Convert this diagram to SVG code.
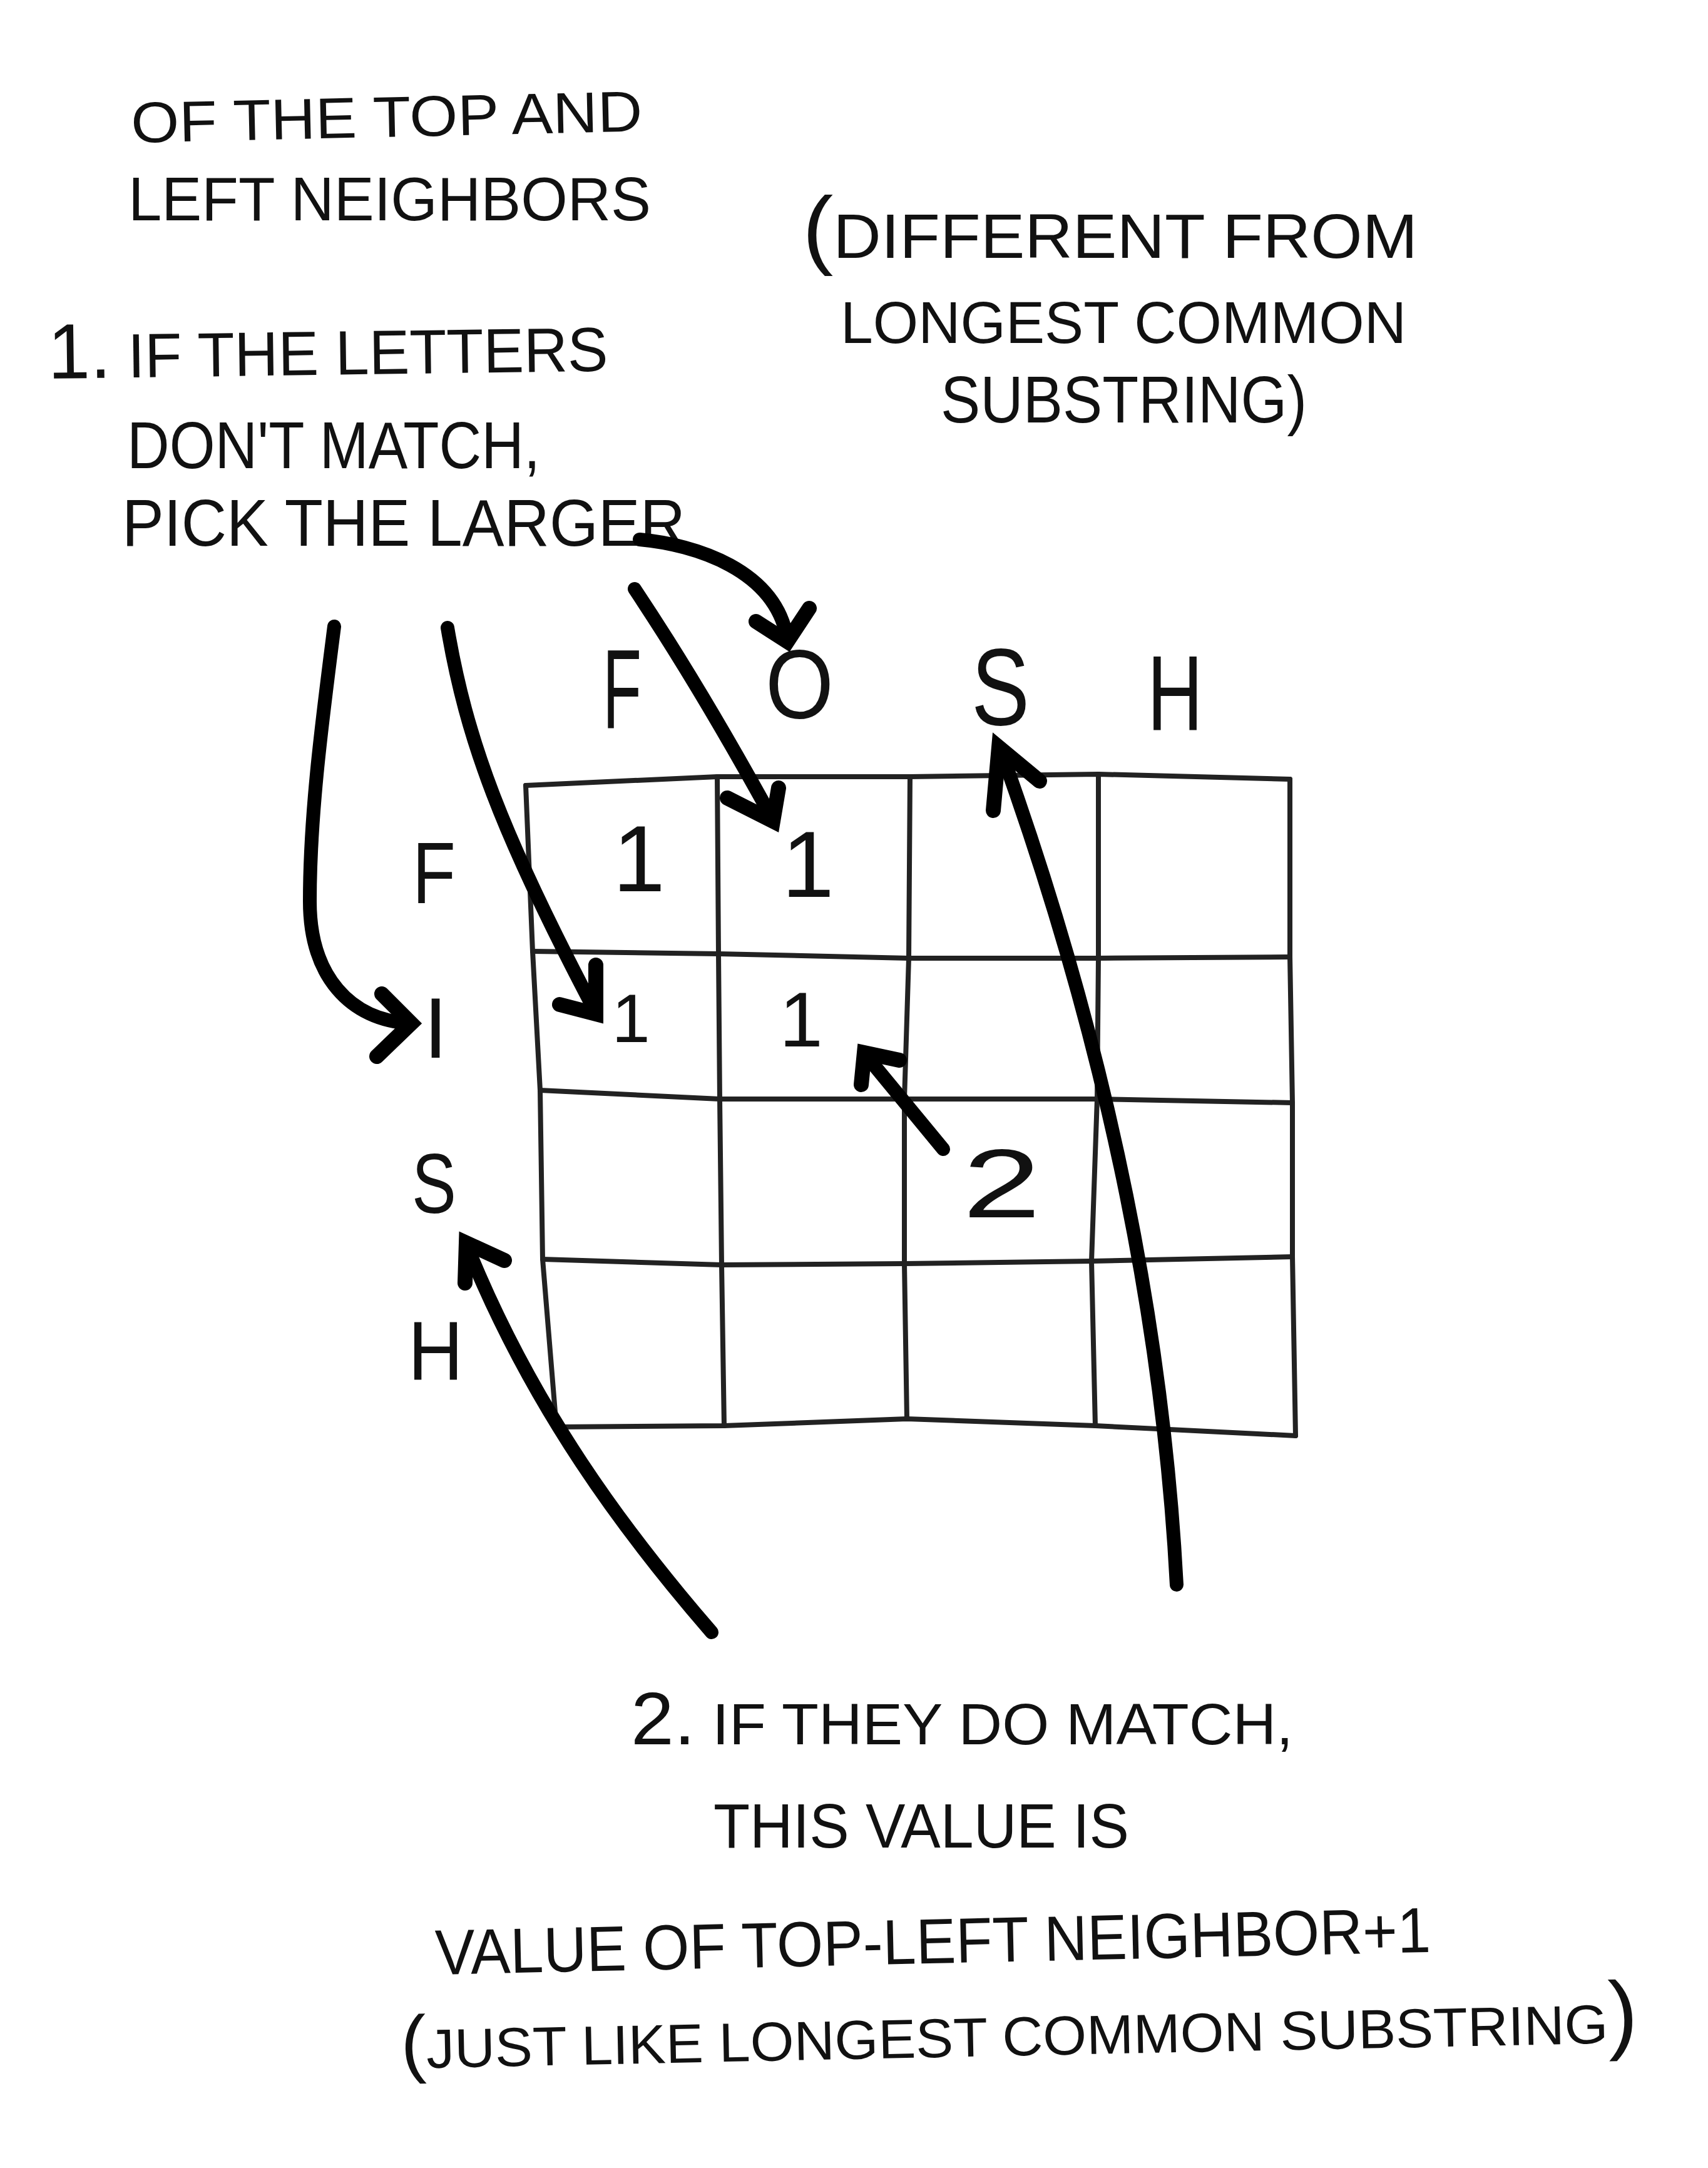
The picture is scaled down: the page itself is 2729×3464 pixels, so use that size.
<svg xmlns="http://www.w3.org/2000/svg" width="2729" height="3464" viewBox="0 0 2729 3464">
  <style>
    .t { font-family: "Liberation Sans", Arial, sans-serif; fill: #111; }
    .grid { fill: none; stroke: #222; stroke-width: 8; stroke-linecap: round; stroke-linejoin: round; }
    .arrow { fill: none; stroke: #000; stroke-width: 22; stroke-linecap: round; stroke-linejoin: round; }
    .head { fill: none; stroke: #000; stroke-width: 24; stroke-linecap: round; stroke-linejoin: miter; }
  </style>
  <rect x="0" y="0" width="2729" height="3464" fill="#ffffff"/>

  <g id="note-top-left">
    <text class="t" x="210" y="228" font-size="92" textLength="817" lengthAdjust="spacingAndGlyphs" transform="rotate(-1.3 210 228)">OF THE TOP AND</text>
    <text class="t" x="205" y="352" font-size="98" textLength="835" lengthAdjust="spacingAndGlyphs">LEFT NEIGHBORS</text>
  </g>

  <g id="note-rule-1">
    <text class="t" x="77" y="605" font-size="100" textLength="895" lengthAdjust="spacingAndGlyphs" transform="rotate(-0.8 77 605)"><tspan font-size="125">1.</tspan> IF THE LETTERS</text>
    <text class="t" x="203" y="748" font-size="105" textLength="660" lengthAdjust="spacingAndGlyphs">DON'T MATCH,</text>
    <text class="t" x="195" y="872" font-size="105" textLength="900" lengthAdjust="spacingAndGlyphs">PICK THE LARGER</text>
  </g>

  <g id="note-different">
    <text class="t" x="1282" y="412" font-size="100" textLength="983" lengthAdjust="spacingAndGlyphs"><tspan font-size="140">(</tspan>DIFFERENT FROM</text>
    <text class="t" x="1343" y="548" font-size="95" textLength="904" lengthAdjust="spacingAndGlyphs">LONGEST COMMON</text>
    <text class="t" x="1503" y="675" font-size="105" textLength="585" lengthAdjust="spacingAndGlyphs">SUBSTRING)</text>
  </g>

  <g id="column-headers">
    <text class="t" x="963" y="1163" font-size="180" textLength="62" lengthAdjust="spacingAndGlyphs">F</text>
    <text class="t" x="1223" y="1147" font-size="155" textLength="109" lengthAdjust="spacingAndGlyphs">O</text>
    <text class="t" x="1552" y="1158" font-size="175" textLength="93" lengthAdjust="spacingAndGlyphs">S</text>
    <text class="t" x="1833" y="1167" font-size="170" textLength="89" lengthAdjust="spacingAndGlyphs">H</text>
  </g>

  <g id="row-headers">
    <text class="t" x="659" y="1443" font-size="140" textLength="69" lengthAdjust="spacingAndGlyphs">F</text>
    <text class="t" x="696" y="1690" font-size="137" text-anchor="middle">I</text>
    <text class="t" x="658" y="1938" font-size="135" textLength="71" lengthAdjust="spacingAndGlyphs">S</text>
    <text class="t" x="652" y="2205" font-size="133" textLength="88" lengthAdjust="spacingAndGlyphs">H</text>
  </g>

  <g id="grid">
    <path class="grid" d="M840,1255 L1146,1241 L1454,1241 L1755,1237 L2061,1245"/>
    <path class="grid" d="M851,1520 L1148,1524 L1452,1531 L1755,1531 L2061,1529"/>
    <path class="grid" d="M863,1742 L1150,1756 L1445,1756 L1753,1756 L2065,1762"/>
    <path class="grid" d="M867,2012 L1153,2021 L1445,2019 L1744,2015 L2065,2008"/>
    <path class="grid" d="M889,2280 L1157,2278 L1449,2267 L1750,2278 L2070,2294"/>
    <path class="grid" d="M840,1255 L851,1520 L863,1742 L867,2012 L889,2280"/>
    <path class="grid" d="M1146,1241 L1148,1524 L1150,1756 L1153,2021 L1157,2278"/>
    <path class="grid" d="M1454,1241 L1452,1531 L1445,1756 L1445,2019 L1449,2267"/>
    <path class="grid" d="M1755,1237 L1755,1531 L1753,1756 L1744,2015 L1750,2278"/>
    <path class="grid" d="M2061,1245 L2061,1529 L2065,1762 L2065,2008 L2070,2294"/>
  </g>

  <g id="cell-values">
    <text class="t" x="1021" y="1424" font-size="150" text-anchor="middle">1</text>
    <text class="t" x="1291" y="1433" font-size="150" text-anchor="middle">1</text>
    <text class="t" x="1008" y="1665" font-size="110" text-anchor="middle">1</text>
    <text class="t" x="1280" y="1672" font-size="125" text-anchor="middle">1</text>
    <text class="t" x="1538" y="1945" font-size="155" textLength="125" lengthAdjust="spacingAndGlyphs">2</text>
  </g>

  <g id="note-rule-2">
    <text class="t" x="1008" y="2787" font-size="92" textLength="1058" lengthAdjust="spacingAndGlyphs"><tspan font-size="118">2.</tspan> IF THEY DO MATCH,</text>
    <text class="t" x="1140" y="2952" font-size="100" textLength="664" lengthAdjust="spacingAndGlyphs">THIS VALUE IS</text>
    <text class="t" x="696" y="3155" font-size="102" textLength="1591" lengthAdjust="spacingAndGlyphs" transform="rotate(-1.3 696 3155)">VALUE OF TOP-LEFT NEIGHBOR+1</text>
    <text class="t" x="641" y="3305" font-size="88" textLength="1977" lengthAdjust="spacingAndGlyphs" transform="rotate(-1.2 641 3305)"><tspan font-size="120">(</tspan>JUST LIKE LONGEST COMMON SUBSTRING<tspan font-size="140">)</tspan></text>
  </g>

  <g id="connectors">
    <path class="arrow" d="M1022,862 C1110,870 1240,910 1258,1022"/>
    <path class="head" d="M1208,993 L1258,1025 L1293,972"/>

    <path class="arrow" d="M1014,941 Q1120,1100 1235,1310"/>
    <path class="head" d="M1162,1275 L1235,1312 L1244,1259"/>

    <path class="arrow" d="M715,1003 C745,1180 800,1330 952,1618"/>
    <path class="head" d="M894,1605 L952,1620 L952,1542"/>

    <path class="arrow" d="M534,1001 C515,1150 495,1300 495,1440 C495,1560 560,1630 655,1635"/>
    <path class="head" d="M610,1588 L657,1635 L602,1688"/>

    <path class="arrow" d="M1507,1836 L1385,1688"/>
    <path class="head" d="M1376,1733 L1381,1682 L1437,1694"/>

    <path class="arrow" d="M1880,2532 C1860,2150 1780,1700 1598,1196"/>
    <path class="head" d="M1587,1295 L1596,1194 L1661,1248"/>

    <path class="arrow" d="M1137,2608 C1000,2450 850,2250 745,1988"/>
    <path class="head" d="M743,2050 L745,1986 L806,2014"/>
  </g>
</svg>
